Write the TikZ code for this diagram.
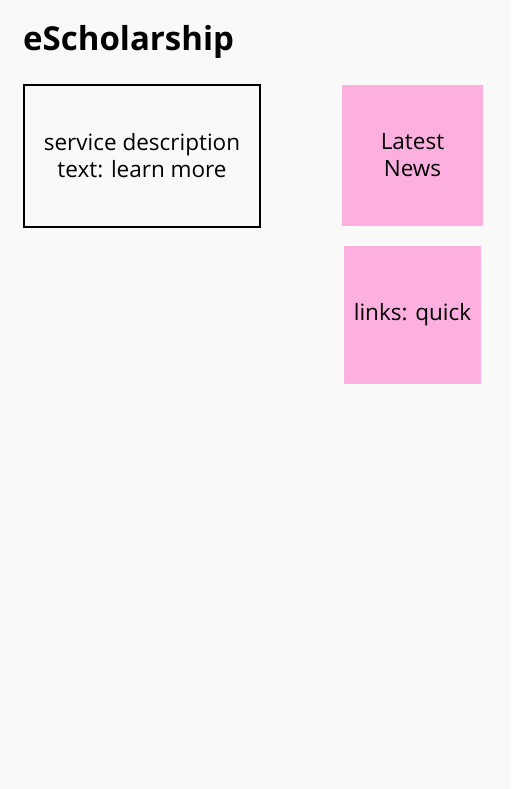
\documentclass[tikz,border=0pt]{standalone}
\usepackage{fontspec}
\setmainfont{Open Sans}
\usetikzlibrary{positioning}

\definecolor{bgGray}{HTML}{F9F9F9}
\definecolor{notePink}{HTML}{FDB0E0}

\tikzset{
  textbox/.style={draw=black,line width=2.4pt,fill=bgGray,inner sep=0pt,align=center,font=\fontsize{22.5}{27}\selectfont},
  notebox/.style={fill=notePink,inner sep=0pt,align=center,font=\fontsize{22.5}{27}\selectfont},
}

\begin{document}
\begin{tikzpicture}[x=1pt,y=-1pt]
  \fill[bgGray] (0,0) rectangle (511,789); % background
  \useasboundingbox (0,0) rectangle (511,789);

  % title
  \node[anchor=base west,inner sep=0pt,font=\bfseries\fontsize{33}{36}\selectfont] (title) at (23,51) {eScholarship};

  % service description
  \node[textbox,minimum width=236pt,minimum height=142pt] (service) at (142,156) {service description\\text: learn more};

  % pink notes
  \node[notebox,minimum width=141pt,minimum height=141pt] (news) at (412.5,155.5) {Latest\\News};
  \node[notebox,minimum width=137pt,minimum height=138pt] (links) at (412.5,315) {links: quick};
\end{tikzpicture}
\end{document}
